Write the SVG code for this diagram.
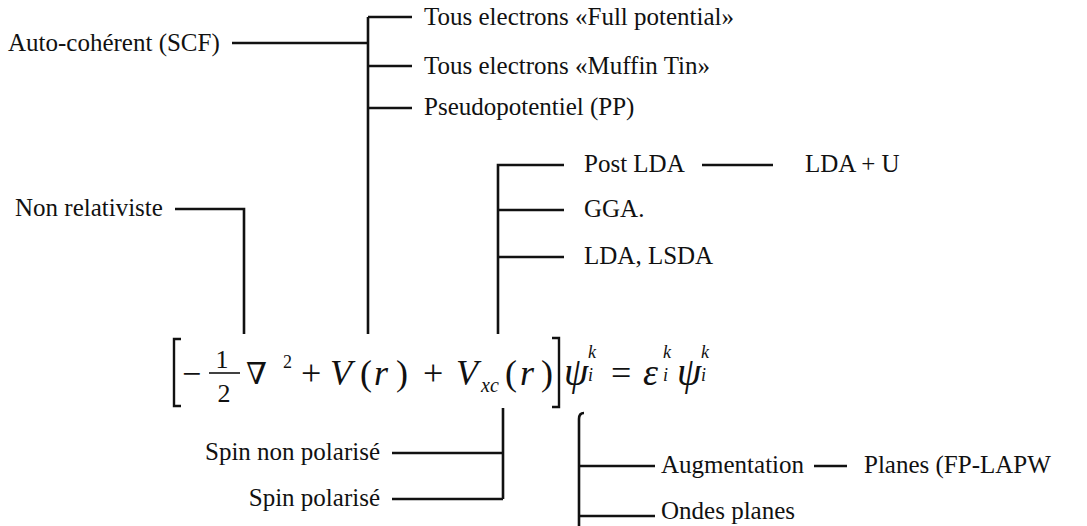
<svg xmlns="http://www.w3.org/2000/svg" width="1087" height="526" viewBox="0 0 1087 526">
<style>
.t{font-family:"Liberation Serif","DejaVu Serif",serif;font-size:25px;fill:#111}
.m{font-family:"Liberation Serif","DejaVu Serif",serif;fill:#111}
.i{font-style:italic}
.c{fill:none;stroke:#111;stroke-width:2.6}
.b{fill:none;stroke:#111;stroke-width:2.4}
</style>
<rect width="1087" height="526" fill="#fff"/>
<g id="connectors">
<path class="c" d="M232,43 H368 M368,17 V334 M368,17 H412 M368,66 H412 M368,108 H412"/>
<path class="c" d="M175,209 H244 V334"/>
<path class="c" d="M498,334 V165 H564 M498,210 H564 M498,257 H564 M702,165 H773"/>
<path class="c" d="M503,408 V499 M392,453 H503 M392,499 H503"/>
<path class="c" d="M584,413 Q579,413 579,419 V526 M579,466 H655 M579,516 H655 M814,466 H847"/>
</g>
<g id="n-auto"><text class="t" x="8" y="51">Auto-cohérent (SCF)</text></g>
<g id="n-full"><text class="t" x="424" y="25">Tous electrons «Full potential»</text></g>
<g id="n-muffin"><text class="t" x="424" y="74">Tous electrons «Muffin Tin»</text></g>
<g id="n-pp"><text class="t" x="424" y="115">Pseudopotentiel (PP)</text></g>
<g id="n-nonrel"><text class="t" x="15" y="216">Non relativiste</text></g>
<g id="n-postlda"><text class="t" x="584" y="172">Post LDA</text></g>
<g id="n-ldau"><text class="t" x="805" y="172">LDA + U</text></g>
<g id="n-gga"><text class="t" x="584" y="217">GGA.</text></g>
<g id="n-lda"><text class="t" x="584" y="264">LDA, LSDA</text></g>
<g id="n-equation">
<path class="b" d="M181,339 H174 V406 H181"/>
<text class="m" x="182" y="385" font-size="34">−</text>
<text class="m" x="222" y="368" font-size="26" text-anchor="middle">1</text>
<line x1="209" y1="373" x2="240" y2="373" stroke="#111" stroke-width="1.6"/>
<text class="m" x="224" y="402" font-size="26" text-anchor="middle">2</text>
<text class="m" x="246" y="384" font-size="30">∇</text>
<text class="m" x="283" y="368" font-size="18">2</text>
<text class="m" x="301" y="385" font-size="36">+</text>
<text class="m i" x="330" y="385" font-size="36">V</text>
<text class="m" x="360" y="385" font-size="36">(</text>
<text class="m i" x="374" y="385" font-size="36">r</text>
<text class="m" x="396" y="385" font-size="36">)</text>
<text class="m" x="423" y="385" font-size="36">+</text>
<text class="m i" x="456" y="385" font-size="36">V</text>
<text class="m i" x="481" y="392" font-size="20">xc</text>
<text class="m" x="505" y="385" font-size="36">(</text>
<text class="m i" x="520" y="385" font-size="36">r</text>
<text class="m" x="541" y="385" font-size="36">)</text>
<path class="b" d="M552,338 H559 V407 H552"/>
<text class="m i" x="564" y="385" font-size="39">ψ</text>
<text class="m i" x="588" y="358" font-size="18">k</text>
<text class="m i" x="588" y="381" font-size="18">i</text>
<text class="m" x="611" y="385" font-size="36">=</text>
<text class="m i" x="643" y="385" font-size="38">ε</text>
<text class="m i" x="663" y="358" font-size="18">k</text>
<text class="m i" x="663" y="381" font-size="18">i</text>
<text class="m i" x="677" y="385" font-size="39">ψ</text>
<text class="m i" x="701" y="358" font-size="18">k</text>
<text class="m i" x="701" y="381" font-size="18">i</text>
</g>
<g id="n-spinnp"><text class="t" x="380" y="460" text-anchor="end">Spin non polarisé</text></g>
<g id="n-spinp"><text class="t" x="380" y="506" text-anchor="end">Spin polarisé</text></g>
<g id="n-aug"><text class="t" x="661" y="473">Augmentation</text></g>
<g id="n-planes"><text class="t" x="864" y="473">Planes (FP-LAPW</text></g>
<g id="n-ondes"><text class="t" x="661" y="519">Ondes planes</text></g>
</svg>
